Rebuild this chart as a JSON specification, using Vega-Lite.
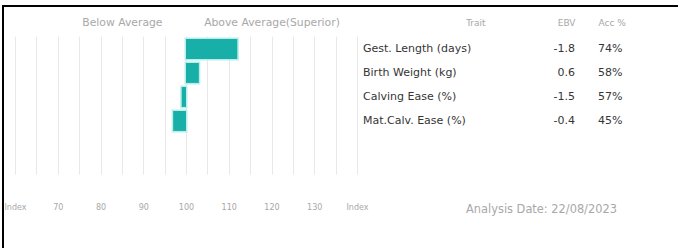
{
  "$schema": "https://vega.github.io/schema/vega-lite/v6.json",
  "width": 700,
  "height": 262,
  "autosize": {"type": "none"},
  "padding": {"left": 3, "top": 6, "right": 0, "bottom": 0},
  "background": "white",
  "config": {"view": {"stroke": "#000000", "strokeWidth": 2}, "font": "DejaVu Sans"},
  "data": {"values": [
    {"trait": "Gest. Length (days)", "index": 112, "ebv": "-1.8", "acc": "74%"},
    {"trait": "Birth Weight (kg)", "index": 103, "ebv": "0.6", "acc": "58%"},
    {"trait": "Calving Ease (%)", "index": 99, "ebv": "-1.5", "acc": "57%"},
    {"trait": "Mat.Calv. Ease (%)", "index": 97, "ebv": "-0.4", "acc": "45%"}
  ]},
  "encoding": {
    "y": {"field": "trait", "type": "nominal", "sort": null, "axis": null,
          "scale": {"range": [30, 168], "paddingInner": 0.17, "paddingOuter": 0.96, "align": 0.065}}
  },
  "layer": [
    {
      "layer": [
        {
          "mark": {"type": "bar", "color": "#b8ede9", "stroke": "#b8ede9", "strokeWidth": 3},
          "encoding": {
            "x": {"field": "index", "type": "quantitative",
                  "scale": {"domain": [60, 140], "range": [12, 354], "nice": false, "zero": false},
                  "axis": {"orient": "top", "values": [60, 65, 70, 75, 80, 85, 90, 95, 100, 105, 110, 115, 120, 125, 130, 135, 140],
                           "labelExpr": "datum.value == 85 ? 'Below Average' : (datum.value == 120 ? 'Above Average(Superior)' : '')",
                           "grid": true, "gridColor": "#e8e8e8", "gridWidth": 1,
                           "ticks": false, "domain": false, "labelPadding": 0, "offset": -21.5,
                           "labelColor": "#a8a8a8", "labelFontSize": 10.8, "title": null,
                           "labelFlush": false, "labelOverlap": false}},
            "x2": {"datum": 100}
          }
        },
        {
          "mark": {"type": "bar", "color": "#17afa8"},
          "encoding": {
            "x": {"field": "index", "type": "quantitative",
                  "scale": {"domain": [60, 140], "range": [12, 354], "nice": false, "zero": false},
                  "axis": {"orient": "bottom", "values": [60, 70, 80, 90, 100, 110, 120, 130, 140],
                           "labelExpr": "datum.value == 60 || datum.value == 140 ? 'Index' : datum.label",
                           "grid": false, "ticks": false, "domain": false, "labelPadding": 0, "offset": -65,
                           "labelColor": "#a8a8a8", "labelFontSize": 8, "title": null,
                           "labelFlush": false, "labelOverlap": false}},
            "x2": {"datum": 100}
          }
        }
      ],
      "resolve": {"axis": {"x": "independent"}}
    },
    {
      "layer": [
        {
          "mark": {"type": "text", "align": "left", "baseline": "middle", "fontSize": 11, "color": "#353535"},
          "encoding": {
            "x": {"datum": 0, "type": "quantitative",
                  "scale": {"domain": [0, 1, 2], "range": [360, 572, 595], "nice": false, "zero": false},
                  "axis": {"orient": "top", "values": [0.53, 1, 2],
                           "labelExpr": "datum.value == 1 ? 'EBV' : (datum.value == 2 ? 'Acc %' : 'Trait')",
                           "labelAlign": {"condition": [{"test": "datum.value == 1", "value": "right"}, {"test": "datum.value == 2", "value": "left"}], "value": "center"},
                           "grid": false, "ticks": false, "domain": false, "labelPadding": 0, "offset": -21,
                           "labelColor": "#a8a8a8", "labelFontSize": 9, "title": null,
                           "labelFlush": false, "labelOverlap": false}},
            "text": {"field": "trait"}
          }
        },
        {
          "mark": {"type": "text", "align": "right", "baseline": "middle", "fontSize": 11, "color": "#353535"},
          "encoding": {
            "x": {"datum": 1, "type": "quantitative",
                  "scale": {"domain": [0, 1, 2], "range": [360, 572, 595], "nice": false, "zero": false},
                  "axis": {"orient": "bottom", "labels": false, "ticks": false, "domain": false, "grid": false,
                           "offset": -65, "title": "Analysis Date: 22/08/2023", "titleX": 538, "titleY": 0,
                           "titleAlign": "center", "titleBaseline": "top", "titleFontWeight": "normal",
                           "titleFontSize": 11.4, "titleColor": "#a8a8a8", "titlePadding": 0}},
            "text": {"field": "ebv"}
          }
        },
        {
          "mark": {"type": "text", "align": "left", "baseline": "middle", "fontSize": 11, "color": "#353535"},
          "encoding": {
            "x": {"datum": 2, "type": "quantitative",
                  "scale": {"domain": [0, 1, 2], "range": [360, 572, 595], "nice": false, "zero": false},
                  "axis": null},
            "text": {"field": "acc"}
          }
        }
      ],
      "resolve": {"axis": {"x": "independent"}}
    }
  ],
  "resolve": {"scale": {"x": "independent"}, "axis": {"x": "independent"}}
}
